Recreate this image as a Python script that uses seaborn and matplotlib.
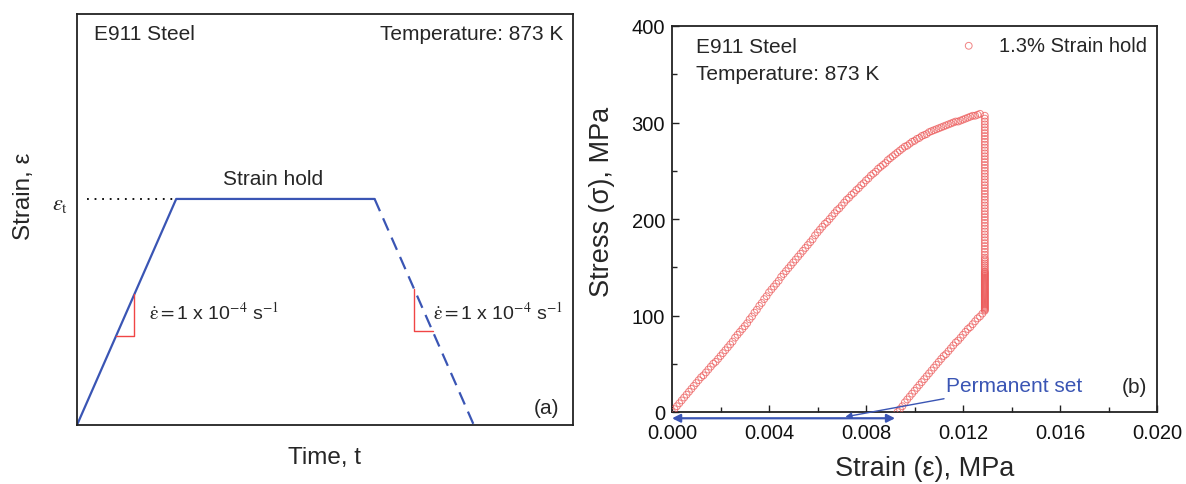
import numpy as np
import pandas as pd
import matplotlib
matplotlib.use("Agg")
import matplotlib.pyplot as plt
from matplotlib.ticker import MultipleLocator, FormatStrFormatter
import seaborn as sns

# ---------------- data: panel (a) schematic ----------------
ramp_time = [0.0, 2.0, 6.0]
ramp_strain = [0.0, 5.5, 5.5]
unload_time = [6.0, 8.0]
unload_strain = [5.5, 0.0]
eps_t_level = 5.5
rate_label = r'$\dot{\mathrm{\varepsilon}} = $1 x 10$^{\mathrm{-4}}$ s$^{\mathrm{-1}}$'

# ---------------- data: panel (b) stress-strain ----------------
loading_strain = [
    0.0000, 0.0001, 0.0002, 0.0003, 0.0004, 0.0005, 0.0006, 0.0007, 0.0008, 0.0009,
    0.0010, 0.0011, 0.0012, 0.0013, 0.0014, 0.0015, 0.0016, 0.0017, 0.0018, 0.0019,
    0.0020, 0.0021, 0.0022, 0.0023, 0.0024, 0.0025, 0.0026, 0.0027, 0.0028, 0.0029,
    0.0030, 0.0031, 0.0032, 0.0033, 0.0034, 0.0035, 0.0036, 0.0037, 0.0038, 0.0039,
    0.0040, 0.0041, 0.0042, 0.0043, 0.0044, 0.0045, 0.0046, 0.0047, 0.0048, 0.0049,
    0.0050, 0.0051, 0.0052, 0.0053, 0.0054, 0.0055, 0.0056, 0.0057, 0.0058, 0.0059,
    0.0060, 0.0061, 0.0062, 0.0063, 0.0064, 0.0065, 0.0066, 0.0067, 0.0068, 0.0069,
    0.0070, 0.0071, 0.0072, 0.0073, 0.0074, 0.0075, 0.0076, 0.0077, 0.0078, 0.0079,
    0.0080, 0.0081, 0.0082, 0.0083, 0.0084, 0.0085, 0.0086, 0.0087, 0.0088, 0.0089,
    0.0090, 0.0091, 0.0092, 0.0093, 0.0094, 0.0095, 0.0096, 0.0097, 0.0098, 0.0099,
    0.0100, 0.0101, 0.0102, 0.0103, 0.0104, 0.0105, 0.0106, 0.0107, 0.0108, 0.0109,
    0.0110, 0.0111, 0.0112, 0.0113, 0.0114, 0.0115, 0.0116, 0.0117, 0.0118, 0.0119,
    0.0120, 0.0121, 0.0122, 0.0123, 0.0124, 0.0125, 0.0126, 0.0127,
]
loading_stress = [
    0, 3, 6, 9, 12, 15, 18, 21, 24, 27,
    30, 33, 36, 38, 41, 44, 47, 50, 52, 55,
    58, 61, 64, 67, 70, 73, 77, 80, 83, 86,
    89, 92, 96, 99, 103, 106, 110, 113, 117, 120,
    124, 127, 130, 133, 136, 140, 143, 146, 149, 152,
    155, 158, 161, 164, 167, 170, 173, 176, 179, 183,
    186, 189, 192, 195, 197, 200, 203, 206, 209, 211,
    214, 217, 220, 222, 225, 227, 230, 232, 235, 237,
    240, 242, 245, 247, 249, 252, 254, 256, 258, 261,
    263, 265, 267, 269, 271, 273, 275, 276, 278, 280,
    281, 283, 284, 286, 287, 288, 290, 291, 292, 293,
    294, 295, 296, 297, 298, 299, 300, 301, 301, 302,
    303, 304, 305, 306, 307, 307, 308, 309,
]
hold_strain_value = 0.0129
hold_stress = [
    307, 304, 301, 298, 295, 292, 289, 286, 283, 280, 277, 274, 271, 268, 265,
    262, 259, 256, 253, 250, 247, 244, 241, 238, 235, 232, 229, 226, 223, 220,
    217, 214, 211, 208, 205, 202, 199, 196, 193, 190, 187, 184, 181, 178, 175,
    172, 169, 166, 163, 160, 158, 156, 154, 152, 150, 148, 146, 145, 144, 143,
    142, 141, 140, 139, 138, 137, 136, 135, 134, 133, 132, 131, 130, 129, 128,
    127, 126, 125, 124, 123, 122, 121, 120, 119, 118, 117, 116, 115, 114, 113,
    112, 111, 110, 109, 108, 107, 106,
]
unloading_strain = [
    0.0129, 0.0128, 0.0127, 0.0126, 0.0125, 0.0124, 0.0123, 0.0122, 0.0121, 0.0120,
    0.0119, 0.0118, 0.0117, 0.0116, 0.0115, 0.0114, 0.0113, 0.0112, 0.0111, 0.0110,
    0.0109, 0.0108, 0.0107, 0.0106, 0.0105, 0.0104, 0.0103, 0.0102, 0.0101, 0.0100,
    0.0099, 0.0098, 0.0097, 0.0096, 0.0095, 0.0094, 0.0093,
]
unloading_stress = [
    105, 102, 99, 97, 94, 91, 88, 86, 83, 80,
    77, 74, 72, 69, 66, 63, 60, 58, 55, 52,
    49, 46, 43, 40, 37, 34, 31, 28, 25, 22,
    19, 16, 13, 10, 6, 3, 0,
]
permanent_set = 0.0092
series_label = "1.3% Strain hold"

# ---------------- style ----------------
sns.set_theme(style="white")
plt.rcParams['font.family'] = ['Liberation Sans', 'DejaVu Sans']
plt.rcParams['mathtext.fontset'] = 'stix'

BLUE = '#3a55b4'
RED_LINE = '#f04545'
RED_MK = '#ec5a5a'
TXT = 15

fig = plt.figure(figsize=(11.86, 4.85), dpi=100)
axa = fig.add_axes([77 / 1186, 59 / 485, 496 / 1186, 411 / 485])
axb = fig.add_axes([672 / 1186, 72 / 485, 485 / 1186, 386 / 485])

# ---------------- panel (a) ----------------
df_ramp = pd.DataFrame({'t': ramp_time, 'e': ramp_strain})
df_unl = pd.DataFrame({'t': unload_time, 'e': unload_strain})
sns.lineplot(data=df_ramp, x='t', y='e', ax=axa, sort=False, estimator=None,
             color=BLUE, lw=1.6)
sns.lineplot(data=df_unl, x='t', y='e', ax=axa, sort=False, estimator=None,
             color=BLUE, lw=1.6, linestyle=(0, (6, 3.5)))
axa.plot([0.2, ramp_time[1]], [eps_t_level, eps_t_level], color='black',
         lw=1.3, linestyle=(0, (1, 3.2)))
# slope triangles
axa.plot([0.79, 1.15, 1.15], [2.17, 2.17, 3.19], color=RED_LINE, lw=1.0)
axa.plot([7.17, 6.80, 6.80], [2.29, 2.29, 3.30], color=RED_LINE, lw=1.0)

axa.set_xlim(0, 10)
axa.set_ylim(0, 10)
axa.set_xticks([])
axa.set_yticks([])
for s in axa.spines.values():
    s.set_visible(True)
    s.set_color('#222222')
    s.set_linewidth(1.3)

axa.text(0.34, 9.53, "E911 Steel", fontsize=TXT, ha='left', va='center')
axa.text(9.8, 9.53, "Temperature: 873 K", fontsize=TXT, ha='right', va='center')
axa.text(3.96, 6.0, "Strain hold", fontsize=TXT, ha='center', va='center')
axa.text(9.73, 0.43, "(a)", fontsize=TXT, ha='right', va='center')
axa.text(1.45, 2.77, rate_label, fontsize=14, ha='left', va='center')
axa.text(7.17, 2.77, rate_label, fontsize=14, ha='left', va='center')
axa.text(-0.018, eps_t_level - 0.1, r'$\varepsilon_\mathrm{t}$', fontsize=16,
         ha='right', va='center', transform=axa.get_yaxis_transform())

axa.set_xlabel("Time, t", fontsize=17.5)
axa.set_ylabel("Strain, ε", fontsize=17.5)
axa.xaxis.set_label_coords(0.5, -0.052)
axa.yaxis.set_label_coords(-0.085, 0.56)

# ---------------- panel (b) ----------------
df_b = pd.concat([
    pd.DataFrame({'strain': loading_strain, 'stress': loading_stress}),
    pd.DataFrame({'strain': np.full(len(hold_stress), hold_strain_value),
                  'stress': hold_stress}),
    pd.DataFrame({'strain': unloading_strain, 'stress': unloading_stress}),
], ignore_index=True)

sns.scatterplot(data=df_b, x='strain', y='stress', ax=axb, s=24, marker='o',
                color=RED_MK, label=series_label, zorder=3)
coll = axb.collections[-1]
coll.set_facecolor('none')
coll.set_edgecolor(RED_MK)
coll.set_linewidth(0.7)
coll.set_alpha(0.75)

axb.set_xlim(0, 0.02)
axb.set_ylim(0, 400)
axb.xaxis.set_major_locator(MultipleLocator(0.004))
axb.xaxis.set_minor_locator(MultipleLocator(0.002))
axb.yaxis.set_major_locator(MultipleLocator(100))
axb.yaxis.set_minor_locator(MultipleLocator(50))
axb.xaxis.set_major_formatter(FormatStrFormatter('%.3f'))
axb.tick_params(axis='both', which='both', direction='in', bottom=True, left=True,
                top=False, right=False, colors='#222222', labelcolor='#111111')
axb.tick_params(axis='both', which='major', length=5, width=1.0, labelsize=14.5)
axb.tick_params(axis='both', which='minor', length=3.5, width=1.0)
axb.tick_params(axis='x', which='major', pad=8)
axb.tick_params(axis='y', which='major', pad=5)
for s in axb.spines.values():
    s.set_visible(True)
    s.set_color('#222222')
    s.set_linewidth(1.3)

axb.set_xlabel("Strain (ε), MPa", fontsize=19.5)
axb.set_ylabel("Stress (σ), MPa", fontsize=19.5)
axb.xaxis.set_label_coords(0.52, -0.112)
axb.yaxis.set_label_coords(-0.118, 0.547)

axb.text(0.00099, 379, "E911 Steel", fontsize=TXT, ha='left', va='center')
axb.text(0.00099, 351, "Temperature: 873 K", fontsize=TXT, ha='left', va='center')
axb.text(0.0196, 26, "(b)", fontsize=TXT, ha='right', va='center')

leg = axb.legend(loc='upper right', frameon=False, fontsize=14.5,
                 handletextpad=0.5, borderaxespad=0.1, markerscale=1.0)

# permanent set arrow
axb.annotate('', xy=(0.0, -6.5), xytext=(permanent_set, -6.5),
             arrowprops=dict(arrowstyle='<|-|>', color=BLUE, lw=1.6,
                             mutation_scale=12, shrinkA=0, shrinkB=0),
             annotation_clip=False)
axb.annotate('Permanent set', xy=(0.00715, -5), xytext=(0.01128, 27),
             color=BLUE, fontsize=TXT, ha='left', va='center',
             arrowprops=dict(arrowstyle='-|>', color=BLUE, lw=1.0,
                             mutation_scale=9, shrinkA=0, shrinkB=0),
             annotation_clip=False)

fig.savefig('out.png', dpi=100)
